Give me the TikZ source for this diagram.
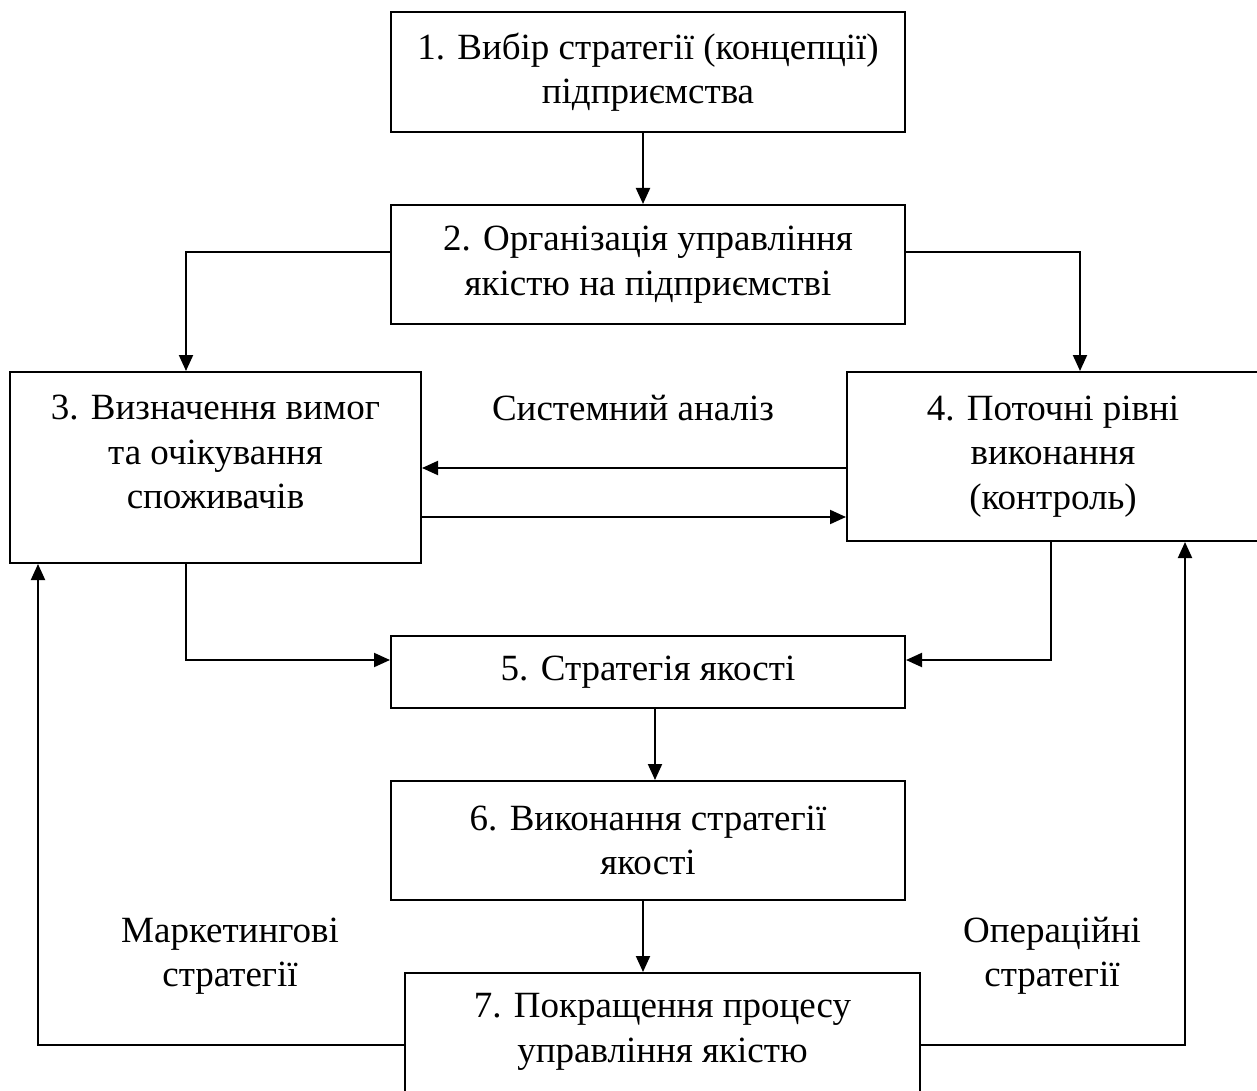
\documentclass[tikz,border=0pt]{standalone}
\usepackage{fontspec}
\setmainfont{Liberation Serif}
\usetikzlibrary{arrows.meta}
\begin{document}
\begin{tikzpicture}[x=1pt,y=-1pt,
  box/.style={draw,line width=2pt,inner sep=0pt,align=center,font=\fontsize{37}{44.5}\selectfont},
  lbl/.style={align=center,font=\fontsize{37}{44.5}\selectfont},
  conn/.style={line width=2pt,-{Triangle[length=16pt,width=14pt]}}]
\useasboundingbox (0,0) rectangle (1257,1091);
\node[box,minimum width=514pt,minimum height=120pt] (b1) at (648,72) {1. Вибір стратегії (концепції)\\підприємства};
\node[box,minimum width=514pt,minimum height=119pt] (b2) at (648,264.5) {2. Організація управління\\якістю на підприємстві};
\node[box,minimum width=411pt,minimum height=191pt] (b3) at (215.5,467.5) {};
\node[lbl] (t3) at (215.5,452) {3. Визначення вимог\\та очікування\\споживачів};
\node[box,minimum width=412pt,minimum height=169pt] (b4) at (1053,456.5) {4. Поточні рівні\\виконання\\(контроль)};
\node[box,minimum width=514pt,minimum height=72pt] (b5) at (648,672) {5. Стратегія якості};
\node[box,minimum width=514pt,minimum height=119pt] (b6) at (648,840.5) {6. Виконання стратегії\\якості};
\node[box,minimum width=515pt,minimum height=130pt] (b7) at (662.5,1038) {};
\node[lbl] (t7) at (662.5,1032) {7. Покращення процесу\\управління якістю};
\node[lbl] (sa) at (633,408) {Системний аналіз};
\node[lbl] (ms) at (230,956) {Маркетингові\\стратегії};
\node[lbl] (os) at (1052,956) {Операційні\\стратегії};
\coordinate (c2l) at (186,252);
\coordinate (c2r) at (1080,252);
\coordinate (c3d) at (186,660);
\coordinate (c4d) at (1051,660);
\coordinate (c7l) at (38,1045);
\coordinate (c7r) at (1185,1045);
\draw[conn] (b1.south -| 643,0) -- (b2.north -| 643,0);
\draw[conn] (b2.west |- c2l) -- (c2l) -- (c2l |- b3.north);
\draw[conn] (b2.east |- c2r) -- (c2r) -- (c2r |- b4.north);
\draw[conn] (b4.west |- 0,468) -- (b3.east |- 0,468);
\draw[conn] (b3.east |- 0,517) -- (b4.west |- 0,517);
\draw[conn] (c3d |- b3.south) -- (c3d) -- (b5.west |- c3d);
\draw[conn] (c4d |- b4.south) -- (c4d) -- (b5.east |- c4d);
\draw[conn] (b5.south -| 655,0) -- (b6.north -| 655,0);
\draw[conn] (b6.south -| 643,0) -- (b7.north -| 643,0);
\draw[conn] (b7.west |- c7l) -- (c7l) -- (c7l |- b3.south);
\draw[conn] (b7.east |- c7r) -- (c7r) -- (c7r |- b4.south);
\end{tikzpicture}
\end{document}
